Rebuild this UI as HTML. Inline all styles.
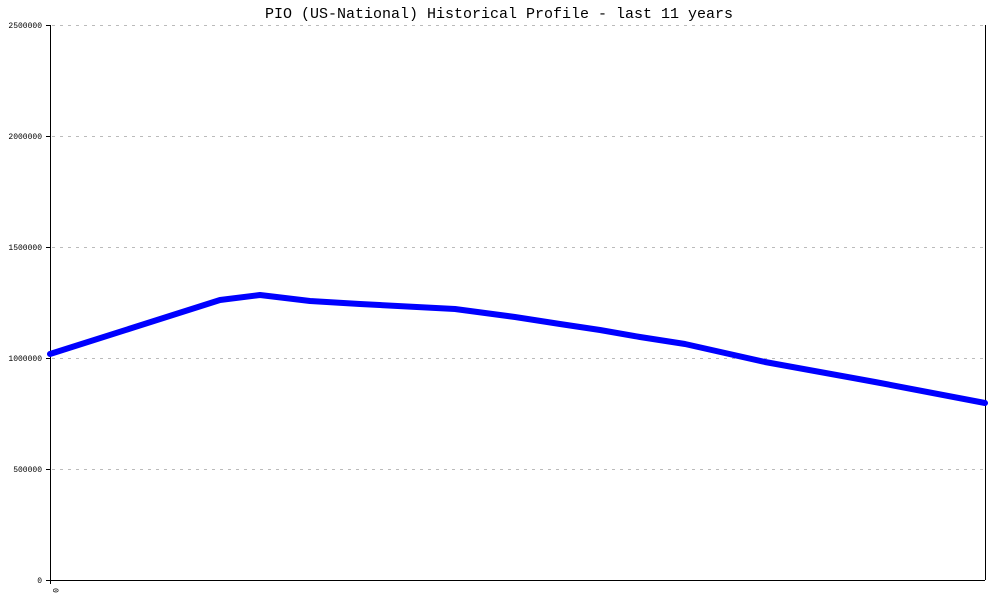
<!DOCTYPE html>
<html><head><style>body{margin:0;background:#fff}</style></head><body>
<svg width="1000" height="600" xmlns="http://www.w3.org/2000/svg" style="display:block">
<rect width="1000" height="600" fill="#fff"/>
<text x="499" y="18" text-anchor="middle" font-family="Liberation Mono, monospace" font-size="15" fill="#000">PIO (US-National) Historical Profile - last 11 years</text>
<g stroke="#bbb" stroke-dasharray="3,5" stroke-width="1">
<line x1="52" y1="25.5" x2="985" y2="25.5"/>
<line x1="52" y1="136.5" x2="985" y2="136.5"/>
<line x1="52" y1="247.5" x2="985" y2="247.5"/>
<line x1="52" y1="358.5" x2="985" y2="358.5"/>
<line x1="52" y1="469.5" x2="985" y2="469.5"/>
</g>
<g stroke="#000" stroke-width="1">
<line x1="50.5" y1="25" x2="50.5" y2="584"/>
<line x1="985.5" y1="25" x2="985.5" y2="580"/>
<line x1="46" y1="580.5" x2="985" y2="580.5"/>
<line x1="46" y1="25.5" x2="50" y2="25.5"/>
<line x1="46" y1="136.5" x2="50" y2="136.5"/>
<line x1="46" y1="247.5" x2="50" y2="247.5"/>
<line x1="46" y1="358.5" x2="50" y2="358.5"/>
<line x1="46" y1="469.5" x2="50" y2="469.5"/>
</g>
<g font-family="Liberation Mono, monospace" font-size="8" fill="#000" text-anchor="end">
<text x="42" y="28">2500000</text>
<text x="42" y="139">2000000</text>
<text x="42" y="250">1500000</text>
<text x="42" y="361">1000000</text>
<text x="42" y="472">500000</text>
<text x="42" y="583">0</text>
</g>
<text x="0" y="0" transform="translate(53,588) rotate(90)" font-family="Liberation Mono, monospace" font-size="8" text-anchor="start">0</text>
<polyline fill="none" stroke="#0000ff" stroke-width="6" stroke-linejoin="round" stroke-linecap="round"
points="50,354 135,327 220,300 260,295 310,301 360,304 455,309 515,317 560,324 600,330 640,337 685,344 765,362 875,382 985,403"/>
</svg>
</body></html>
